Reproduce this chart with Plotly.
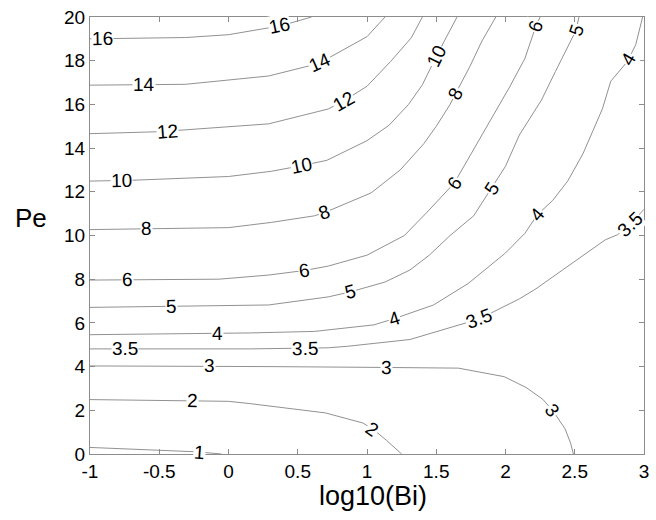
import numpy as np
import plotly.graph_objects as go

# ---- contour lines (x = log10(Bi), y = Pe) ----
c1_x = [-1, -0.5, -0.23, -0.05]
c1_y = [0.30, 0.18, 0.10, 0.0]
c2_x = [-1, -0.25, 0.0, 0.15, 0.70, 0.97, 1.05, 1.14, 1.20, 1.25]
c2_y = [2.49, 2.44, 2.41, 2.31, 1.88, 1.42, 1.10, 0.63, 0.30, 0.0]
c3_x = [-1, 0.29, 0.30, 1.15, 1.66, 1.99, 2.15, 2.27, 2.34, 2.43, 2.47, 2.49]
c3_y = [4.03, 4.03, 4.0, 3.96, 3.93, 3.54, 3.04, 2.50, 2.0, 1.15, 0.5, 0.0]
c35_x = [-1, 0.15, 0.72, 0.86, 1.31, 1.65, 1.81, 2.10, 2.22, 2.36, 2.67, 2.72, 2.81, 2.90, 3.0]
c35_y = [4.81, 4.81, 4.86, 4.93, 5.24, 5.90, 6.18, 7.10, 7.56, 8.19, 9.55, 9.80, 10.04, 10.5, 11.2]
c4_x = [-1, 0.15, 0.62, 1.05, 1.20, 1.48, 1.73, 2.0, 2.14, 2.23, 2.34, 2.45, 2.56, 2.70, 2.76, 2.88, 2.94, 2.99]
c4_y = [5.46, 5.54, 5.61, 5.91, 6.2, 6.82, 7.8, 9.2, 10.1, 10.95, 11.6, 12.5, 13.75, 15.8, 17.06, 17.96, 18.73, 20]
c5_x = [-1, 0.29, 0.72, 0.88, 1.13, 1.31, 1.45, 1.60, 1.77, 1.90, 2.0, 2.10, 2.26, 2.36, 2.46, 2.51, 2.53]
c5_y = [6.71, 6.82, 7.19, 7.42, 7.87, 8.42, 9.1, 10.0, 10.9, 12.17, 13.17, 14.6, 16.2, 17.5, 18.73, 19.4, 20]
c6_x = [-1, -0.07, 0.29, 0.55, 0.72, 1.0, 1.27, 1.43, 1.63, 1.74, 1.88, 2.03, 2.14, 2.22, 2.25]
c6_y = [7.96, 8.0, 8.19, 8.4, 8.6, 9.1, 10.0, 11.04, 12.4, 13.6, 15.1, 16.8, 18.1, 19.6, 20]
c8_x = [-1, 0, 0.31, 0.62, 0.69, 1.03, 1.24, 1.41, 1.50, 1.60, 1.64, 1.74, 1.83, 1.93]
c8_y = [10.27, 10.36, 10.6, 10.9, 11.04, 11.95, 13.0, 14.2, 15.0, 16.0, 16.5, 17.7, 18.9, 20]
c10_x = [-1, -0.69, 0, 0.31, 0.53, 0.71, 1.0, 1.16, 1.30, 1.40, 1.50, 1.58, 1.65]
c10_y = [12.49, 12.53, 12.7, 12.94, 13.2, 13.44, 14.34, 15.05, 16.0, 16.9, 18.2, 19.2, 20]
c12_x = [-1, -0.5, 0.29, 0.72, 0.83, 1.0, 1.17, 1.32, 1.40]
c12_y = [14.66, 14.75, 15.11, 15.79, 16.15, 16.83, 17.96, 19.05, 20]
c14_x = [-1, -0.31, 0.29, 0.65, 1.0, 1.13]
c14_y = [16.88, 16.92, 17.3, 17.87, 19.1, 20]
c16_x = [-1, -0.31, 0, 0.38, 0.6]
c16_y = [19.0, 19.06, 19.19, 19.6, 20]

# x positions of the inline contour labels
lab1 = [-0.21]
lab2 = [-0.26, 1.04]
lab3 = [-0.14, 1.14, 2.34]
lab35 = [-0.75, 0.55, 1.81, 2.90]
lab4 = [-0.08, 1.20, 2.23, 2.89]
lab5 = [-0.41, 0.88, 1.90, 2.51]
lab6 = [-0.73, 0.55, 1.63, 2.22]
lab8 = [-0.59, 0.69, 1.64]
lab10 = [-0.77, 0.53, 1.50]
lab12 = [-0.44, 0.83]
lab14 = [-0.61, 0.66]
lab16 = [-0.91, 0.37]

levels = [1, 2, 3, 3.5, 4, 5, 6, 8, 10, 12, 14, 16]
contours = [
    (c1_x, c1_y, lab1), (c2_x, c2_y, lab2), (c3_x, c3_y, lab3),
    (c35_x, c35_y, lab35), (c4_x, c4_y, lab4), (c5_x, c5_y, lab5),
    (c6_x, c6_y, lab6), (c8_x, c8_y, lab8), (c10_x, c10_y, lab10),
    (c12_x, c12_y, lab12), (c14_x, c14_y, lab14), (c16_x, c16_y, lab16),
]

x_ticks = [-1, -0.5, 0, 0.5, 1, 1.5, 2, 2.5, 3]
x_ticktext = ["-1", "-0.5", "0", "0.5", "1", "1.5", "2", "2.5", "3"]
y_ticks = [0, 2, 4, 6, 8, 10, 12, 14, 16, 18, 20]

W, H = 656, 520
ML, MR, MT, MB = 90, 7, 12, 66
XR, YR = [-1, 3], [0, 20]
sx = (W - ML - MR) / (XR[1] - XR[0])
sy = (H - MT - MB) / (YR[1] - YR[0])

FONT = "Arial, Liberation Sans, sans-serif"
LINE = "#858585"

fig = go.Figure()
annotations = []
for lev, (xs, ys, labs) in zip(levels, contours):
    fig.add_trace(go.Scatter(x=xs, y=ys, mode="lines",
                             line=dict(color=LINE, width=0.9),
                             showlegend=False, hoverinfo="skip"))
    xa = np.array(xs, dtype=float)
    ya = np.array(ys, dtype=float)
    for lx in labs:
        ly = float(np.interp(lx, xa, ya))
        d = 0.04
        y1 = np.interp(lx - d, xa, ya)
        y2 = np.interp(lx + d, xa, ya)
        x1 = max(lx - d, xa[0]); x2 = min(lx + d, xa[-1])
        ang = -np.degrees(np.arctan2((y2 - y1) * sy, (x2 - x1) * sx))
        annotations.append(dict(
            x=lx, y=ly, xref="x", yref="y", text=f"{lev:g}",
            showarrow=False, textangle=float(ang),
            font=dict(family=FONT, size=19, color="black"),
            bgcolor="white", borderpad=0,
            xanchor="center", yanchor="middle"))

annotations.append(dict(x=-0.107, y=0.54, xref="paper", yref="paper",
                        text="Pe", showarrow=False,
                        font=dict(family=FONT, size=26, color="black"),
                        xanchor="center", yanchor="middle"))
annotations.append(dict(x=0.51, y=-0.097, xref="paper", yref="paper",
                        text="log10(Bi)", showarrow=False,
                        font=dict(family=FONT, size=27, color="black"),
                        xanchor="center", yanchor="middle"))

axis_common = dict(showgrid=False, zeroline=False, showline=True,
                   linecolor="#8c8c8c", linewidth=1, mirror="ticks",
                   ticks="inside", ticklen=5, tickcolor="#8c8c8c",
                   tickfont=dict(family=FONT, size=19, color="black"))

fig.update_layout(
    width=W, height=H,
    margin=dict(l=ML, r=MR, t=MT, b=MB),
    paper_bgcolor="white", plot_bgcolor="white",
    xaxis=dict(range=XR, tickvals=x_ticks, ticktext=x_ticktext, **axis_common),
    yaxis=dict(range=YR, tickvals=y_ticks, **axis_common),
    annotations=annotations,
)

fig.write_html("out.html")
